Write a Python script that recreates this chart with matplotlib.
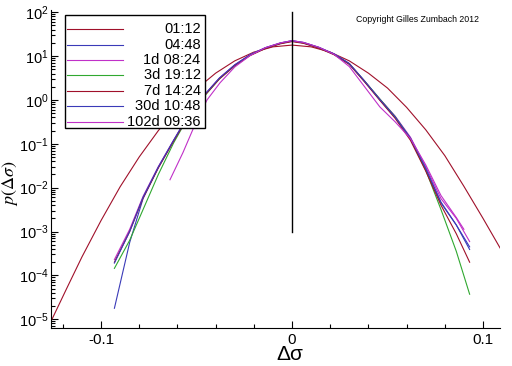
import numpy as np
import matplotlib.pyplot as plt
from matplotlib.patches import Rectangle
from matplotlib.ticker import MultipleLocator, LogLocator, FixedLocator

# datos (log10 de p)
labels = ['01:12', '04:48', '1d 08:24', '3d 19:12', '7d 14:24', '30d 10:48', '102d 09:36']
colores = ['#a0102a', '#3a3ab8', '#c030c8', '#30a830', '#a0102a', '#3a3ab8', '#c030c8']

x_ancho = [-0.126, -0.118, -0.11, -0.1, -0.09, -0.08, -0.07, -0.06, -0.05, -0.04, -0.03,
           -0.02, -0.01, 0.0, 0.01, 0.02, 0.03, 0.04, 0.05, 0.06, 0.07, 0.08, 0.09,
           0.1, 0.109]
logp_ancho = [-5.03, -4.30, -3.58, -2.75, -1.98, -1.30, -0.70, -0.18, 0.25, 0.61, 0.89,
              1.09, 1.21, 1.25, 1.21, 1.09, 0.89, 0.61, 0.27, -0.17, -0.68, -1.27, -1.97,
              -2.70, -3.38]

x_grid = [-0.093, -0.085, -0.078, -0.07, -0.062, -0.054, -0.046, -0.038, -0.03, -0.022,
          -0.014, -0.006, 0.0, 0.006, 0.014, 0.022, 0.03, 0.038, 0.046, 0.054, 0.062,
          0.07, 0.078, 0.086, 0.093]
logp_0448 = [-4.75, -3.25, -2.25, -1.54, -0.93, -0.34, 0.10, 0.49, 0.79, 1.02,
             1.18, 1.29, 1.34, 1.30, 1.19, 1.04, 0.82, 0.42, 0.0, -0.40, -0.89,
             -1.59, -2.35, -2.85, -3.41]
logp_1d = [-3.64, -2.95, -2.20, -1.52, -0.92, -0.33, 0.11, 0.50, 0.80, 1.03,
           1.19, 1.30, 1.35, 1.31, 1.20, 1.05, 0.83, 0.43, 0.02, -0.37, -0.85,
           -1.52, -2.25, -2.70, -3.23]
logp_3d = [-3.84, -3.20, -2.50, -1.70, -0.98, -0.36, 0.08, 0.48, 0.78, 1.02,
           1.18, 1.29, 1.34, 1.30, 1.19, 1.04, 0.82, 0.43, 0.02, -0.38, -0.88,
           -1.60, -2.50, -3.45, -4.43]
logp_7d = [-3.70, -3.00, -2.24, -1.55, -0.94, -0.35, 0.09, 0.48, 0.78, 1.01,
           1.17, 1.28, 1.33, 1.29, 1.18, 1.03, 0.81, 0.41, -0.01, -0.42, -0.92,
           -1.62, -2.40, -3.05, -3.70]
logp_30d = [-3.72, -3.00, -2.22, -1.53, -0.92, -0.33, 0.11, 0.50, 0.80, 1.03,
            1.19, 1.30, 1.35, 1.31, 1.20, 1.05, 0.83, 0.43, 0.01, -0.39, -0.87,
            -1.56, -2.33, -2.85, -3.35]
x_102d = [-0.0639, -0.0571, -0.0497, -0.0445, -0.0377, -0.03, -0.022, -0.014, -0.006, 0.0,
          0.006, 0.014, 0.022, 0.03, 0.038, 0.046, 0.054, 0.062, 0.07, 0.078, 0.086, 0.09]
logp_102d = [-1.82, -1.20, -0.45, 0.0, 0.39, 0.75, 1.01, 1.19, 1.30, 1.35,
             1.31, 1.20, 1.04, 0.76, 0.30, -0.16, -0.50, -0.88, -1.48, -2.18, -2.68, -2.95]

series = [(x_ancho, logp_ancho), (x_grid, logp_0448), (x_grid, logp_1d), (x_grid, logp_3d),
          (x_grid, logp_7d), (x_grid, logp_30d), (x_102d, logp_102d)]

plt.rcParams['font.family'] = ['Liberation Sans', 'DejaVu Sans']
plt.rcParams['mathtext.fontset'] = 'custom'
plt.rcParams['mathtext.rm'] = 'Liberation Sans'

fig = plt.figure(figsize=(5.12, 3.66), dpi=100)
ax = fig.add_axes([51/512, 1-328/366, 449/512, 318/366])

for (xs, ls), c in zip(series, colores):
    ax.plot(xs, 10**np.array(ls), color=c, lw=0.8)

ax.plot([0, 0], [1e-3, 1e2], color='k', lw=1.0)

ax.set_yscale('log')
ax.set_xlim(-0.1262, 0.1089)
ax.set_ylim(10**-5.2, 10**2.05)
ax.xaxis.set_major_locator(FixedLocator([-0.1, 0, 0.1]))
ax.xaxis.set_minor_locator(MultipleLocator(0.02))
ax.set_xticklabels(['-0.1', '0', '0.1'])
ax.yaxis.set_major_locator(FixedLocator([1e-5, 1e-4, 1e-3, 1e-2, 1e-1, 1, 10, 100]))
ax.yaxis.set_minor_locator(LogLocator(base=10, subs=np.arange(2, 10), numticks=20))
ax.tick_params(which='both', direction='in', labelsize=11, width=0.8)
ax.tick_params(axis='y', labelsize=10.5, pad=1.5)
ax.tick_params(which='major', length=5)
ax.tick_params(which='minor', length=3)
ax.tick_params(axis='y', which='minor', labelleft=False)
ax.spines['top'].set_visible(False)
ax.spines['right'].set_visible(False)

ax.set_xlabel('Δσ', fontsize=15)
ax.xaxis.set_label_coords(0.532, -0.055)
ax.set_ylabel(r'$p(\Delta\sigma)$', fontsize=13, math_fontfamily='stix')
ax.yaxis.set_label_coords(-0.0695, 0.455)

ax.text(0.68, 0.985, 'Copyright Gilles Zumbach 2012', transform=ax.transAxes,
        fontsize=6.3, va='top', ha='left')

# leyenda a mano (texto alineado a la derecha)
ax.add_patch(Rectangle((0.031, 0.629), 0.312, 0.355, transform=ax.transAxes,
                       fill=True, facecolor='white', edgecolor='k', lw=1.0, zorder=5))
for i, (lab, c) in enumerate(zip(labels, colores)):
    yy = 0.940 - i * 0.0485
    ax.plot([0.036, 0.16], [yy, yy], color=c, lw=0.8, transform=ax.transAxes, zorder=6)
    ax.text(0.333, yy, lab, transform=ax.transAxes, ha='right', va='center',
            fontsize=10.5, zorder=6)

plt.savefig('out.png', dpi=100)
